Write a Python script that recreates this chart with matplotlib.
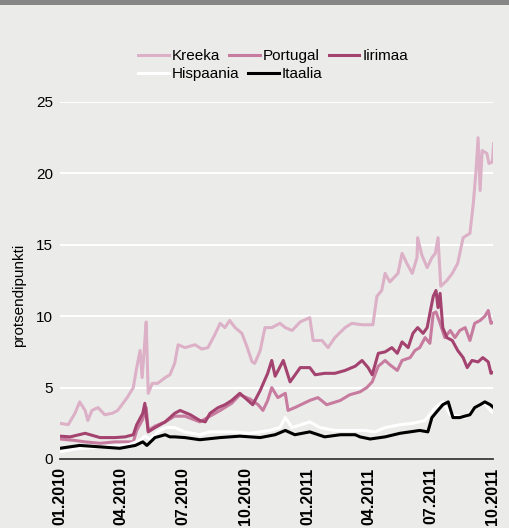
import matplotlib
matplotlib.use("Agg")
import matplotlib.pyplot as plt
import matplotlib.patches as patches
import pandas as pd

# spreads vs Germany, percentage points
kreeka_dates = ["2010-01-01", "2010-01-13", "2010-01-23", "2010-01-30", "2010-02-07", "2010-02-11",
                "2010-02-17", "2010-02-26", "2010-03-08", "2010-03-19", "2010-03-27", "2010-04-10",
                "2010-04-19", "2010-04-24", "2010-04-29", "2010-05-02", "2010-05-05", "2010-05-08",
                "2010-05-11", "2010-05-17", "2010-05-25", "2010-06-05", "2010-06-12", "2010-06-19",
                "2010-06-24", "2010-07-04", "2010-07-19", "2010-07-29", "2010-08-07", "2010-08-17",
                "2010-08-25", "2010-09-01", "2010-09-08", "2010-09-16", "2010-09-26", "2010-10-04",
                "2010-10-11", "2010-10-15", "2010-10-23", "2010-10-30", "2010-11-09", "2010-11-21",
                "2010-11-29", "2010-12-09", "2010-12-21", "2011-01-04", "2011-01-09", "2011-01-22",
                "2011-01-31", "2011-02-10", "2011-02-25", "2011-03-07", "2011-03-22", "2011-04-07",
                "2011-04-13", "2011-04-20", "2011-04-25", "2011-05-02", "2011-05-14", "2011-05-20",
                "2011-05-27", "2011-06-04", "2011-06-11", "2011-06-12", "2011-06-18", "2011-06-26",
                "2011-07-03", "2011-07-08", "2011-07-12", "2011-07-16", "2011-07-25", "2011-08-02",
                "2011-08-10", "2011-08-18", "2011-08-28", "2011-09-02", "2011-09-06", "2011-09-09",
                "2011-09-12", "2011-09-15", "2011-09-22", "2011-09-25", "2011-09-30", "2011-10-02"]
kreeka = [2.5, 2.4, 3.2, 4.0, 3.4, 2.7,
          3.4, 3.6, 3.1, 3.2, 3.4, 4.3,
          5.0, 6.4, 7.6, 5.7, 7.6, 9.6,
          4.6, 5.3, 5.3, 5.7, 5.9, 6.7,
          8.0, 7.8, 8.0, 7.7, 7.8, 8.7,
          9.5, 9.2, 9.7, 9.2, 8.8, 7.8,
          6.8, 6.7, 7.6, 9.2, 9.2, 9.5,
          9.2, 9.0, 9.6, 9.9, 8.3, 8.3,
          7.8, 8.5, 9.2, 9.5, 9.4, 9.4,
          11.4, 11.8, 13.0, 12.4, 13.0, 14.4,
          13.7, 13.0, 14.1, 15.5, 14.3, 13.4,
          14.1, 14.4, 15.5, 12.1, 12.5, 13.0,
          13.7, 15.5, 15.8, 17.9, 20.2, 22.5,
          18.8, 21.6, 21.4, 20.7, 20.8, 22.1]

portugal_dates = ["2010-01-01", "2010-01-23", "2010-02-07", "2010-03-01", "2010-03-23", "2010-04-19",
                  "2010-04-24", "2010-05-03", "2010-05-08", "2010-05-11", "2010-05-21", "2010-06-05",
                  "2010-06-19", "2010-07-04", "2010-07-26", "2010-08-10", "2010-08-25", "2010-09-11",
                  "2010-09-23", "2010-10-08", "2010-10-20", "2010-10-27", "2010-11-03", "2010-11-09",
                  "2010-11-18", "2010-11-29", "2010-12-03", "2010-12-13", "2011-01-04", "2011-01-16",
                  "2011-01-29", "2011-02-18", "2011-03-04", "2011-03-19", "2011-03-29", "2011-04-06",
                  "2011-04-15", "2011-04-25", "2011-05-02", "2011-05-13", "2011-05-20", "2011-06-01",
                  "2011-06-08", "2011-06-15", "2011-06-23", "2011-06-30", "2011-07-05", "2011-07-09",
                  "2011-07-15", "2011-07-22", "2011-07-30", "2011-08-06", "2011-08-13", "2011-08-21",
                  "2011-08-28", "2011-09-04", "2011-09-12", "2011-09-19", "2011-09-24", "2011-09-28",
                  "2011-10-02"]
portugal = [1.4, 1.3, 1.2, 1.1, 1.2, 1.2,
            2.0, 2.8, 3.6, 2.0, 2.3, 2.6,
            3.0, 3.0, 2.6, 3.0, 3.4, 3.9,
            4.5, 4.2, 3.8, 3.4, 4.1, 5.0,
            4.3, 4.6, 3.4, 3.6, 4.1, 4.3,
            3.8, 4.1, 4.5, 4.7, 5.0, 5.4,
            6.5, 6.9, 6.6, 6.2, 6.9, 7.1,
            7.6, 7.8, 8.5, 8.1, 10.2, 10.3,
            9.5, 8.5, 9.0, 8.5, 9.0, 9.2,
            8.3, 9.5, 9.7, 10.0, 10.4, 9.5,
            9.6]

iirimaa_dates = ["2010-01-01", "2010-01-16", "2010-02-07", "2010-03-01", "2010-03-23", "2010-04-07",
                 "2010-04-19", "2010-04-24", "2010-05-03", "2010-05-06", "2010-05-11", "2010-05-21",
                 "2010-06-05", "2010-06-12", "2010-06-19", "2010-06-27", "2010-07-12", "2010-07-26",
                 "2010-08-03", "2010-08-10", "2010-08-22", "2010-09-01", "2010-09-11", "2010-09-23",
                 "2010-10-12", "2010-10-23", "2010-11-03", "2010-11-09", "2010-11-14", "2010-11-26",
                 "2010-12-06", "2010-12-21", "2011-01-04", "2011-01-12", "2011-01-26", "2011-02-10",
                 "2011-02-25", "2011-03-12", "2011-03-22", "2011-03-31", "2011-04-06", "2011-04-15",
                 "2011-04-25", "2011-05-05", "2011-05-13", "2011-05-20", "2011-05-29", "2011-06-05",
                 "2011-06-12", "2011-06-20", "2011-06-26", "2011-06-30", "2011-07-05", "2011-07-09",
                 "2011-07-12", "2011-07-15", "2011-07-19", "2011-07-25", "2011-08-02", "2011-08-10",
                 "2011-08-18", "2011-08-24", "2011-08-31", "2011-09-09", "2011-09-16", "2011-09-24",
                 "2011-09-28", "2011-10-02"]
iirimaa = [1.6, 1.55, 1.8, 1.5, 1.5, 1.55,
           1.7, 2.4, 3.2, 3.9, 1.9, 2.2,
           2.6, 2.9, 3.2, 3.4, 3.1, 2.7,
           2.6, 3.2, 3.6, 3.8, 4.1, 4.6,
           3.8, 4.8, 6.0, 6.9, 5.8, 6.9,
           5.4, 6.4, 6.4, 5.9, 6.0, 6.0,
           6.2, 6.5, 6.9, 6.4, 5.9, 7.4,
           7.5, 7.8, 7.4, 8.2, 7.8, 8.8,
           9.2, 8.8, 9.2, 10.2, 11.4, 11.8,
           10.6, 11.6, 9.2, 8.5, 8.3, 7.6,
           7.1, 6.4, 6.9, 6.8, 7.1, 6.8,
           6.0, 6.1]

hispaania_dates = ["2010-01-01", "2010-01-23", "2010-02-17", "2010-03-19", "2010-04-12", "2010-04-29",
                   "2010-05-06", "2010-05-13", "2010-05-25", "2010-06-05", "2010-06-19", "2010-07-04",
                   "2010-07-26", "2010-08-10", "2010-09-11", "2010-10-08", "2010-11-06", "2010-11-21",
                   "2010-11-29", "2010-12-09", "2011-01-04", "2011-01-19", "2011-02-10", "2011-03-04",
                   "2011-03-26", "2011-04-10", "2011-04-25", "2011-05-17", "2011-06-05", "2011-06-23",
                   "2011-07-08", "2011-07-19", "2011-07-30", "2011-08-21", "2011-09-04", "2011-09-19",
                   "2011-09-27", "2011-10-02"]
hispaania = [0.5, 0.7, 0.8, 0.9, 1.0, 1.3,
             1.6, 1.4, 1.9, 2.2, 2.2, 1.9,
             1.7, 1.9, 1.9, 1.8, 2.0, 2.2,
             2.9, 2.2, 2.6, 2.2, 2.0, 2.0,
             2.0, 1.9, 2.2, 2.4, 2.5, 2.7,
             3.6, 4.0, 3.1, 2.9, 3.6, 3.9,
             3.4, 3.2]

itaalia_dates = ["2010-01-01", "2010-01-30", "2010-03-01", "2010-03-30", "2010-04-22", "2010-05-03",
                 "2010-05-09", "2010-05-21", "2010-06-05", "2010-06-12", "2010-06-19", "2010-07-04",
                 "2010-07-26", "2010-08-25", "2010-09-23", "2010-10-23", "2010-11-14", "2010-11-29",
                 "2010-12-13", "2011-01-04", "2011-01-26", "2011-02-18", "2011-03-12", "2011-03-19",
                 "2011-04-03", "2011-04-25", "2011-05-17", "2011-06-15", "2011-06-27", "2011-07-03",
                 "2011-07-10", "2011-07-19", "2011-07-27", "2011-08-03", "2011-08-13", "2011-08-28",
                 "2011-09-04", "2011-09-12", "2011-09-19", "2011-09-27", "2011-10-02"]
itaalia = [0.75, 0.95, 0.85, 0.75, 0.95, 1.2,
           0.95, 1.5, 1.7, 1.55, 1.55, 1.5,
           1.35, 1.5, 1.6, 1.5, 1.7, 2.0,
           1.7, 1.9, 1.55, 1.7, 1.7, 1.55,
           1.4, 1.55, 1.8, 2.0, 1.9, 2.9,
           3.3, 3.8, 4.0, 2.9, 2.9, 3.1,
           3.6, 3.8, 4.0, 3.8, 3.6]

tick_dates = ["2010-01-01", "2010-04-01", "2010-07-01", "2010-10-01",
              "2011-01-01", "2011-04-01", "2011-07-01", "2011-10-01"]
tick_labels = ["01.2010", "04.2010", "07.2010", "10.2010",
               "01.2011", "04.2011", "07.2011", "10.2011"]

bg = "#ebecea"
plt.rcParams['font.family'] = ['Liberation Sans', 'DejaVu Sans']

fig = plt.figure(figsize=(5.09, 5.28), dpi=100, facecolor=bg)
ax = fig.add_axes([60 / 509, 69 / 528, 433 / 509, 357 / 528])
ax.set_facecolor(bg)

# dark strip across the top
fig.patches.append(patches.Rectangle((0, 1 - 5 / 528), 1, 5 / 528, transform=fig.transFigure,
                                     facecolor="#868686", edgecolor="none"))

series = [
    ("Kreeka", kreeka_dates, kreeka, "#dcb0c6"),
    ("Portugal", portugal_dates, portugal, "#c77c9f"),
    ("Iirimaa", iirimaa_dates, iirimaa, "#a4436f"),
    ("Hispaania", hispaania_dates, hispaania, "#ffffff"),
    ("Itaalia", itaalia_dates, itaalia, "#000000"),
]
handles = {}
for name, d, v, c in series:
    line, = ax.plot(pd.to_datetime(d), v, color=c, lw=2.2, label=name, zorder=3)
    handles[name] = line

ax.set_ylim(0, 25)
ax.set_xlim(pd.Timestamp("2010-01-01"), pd.Timestamp("2011-10-01"))
ax.set_yticks([0, 5, 10, 15, 20, 25])
ax.grid(axis="y", color="white", lw=1.5, zorder=1)
ax.set_axisbelow(True)
for s in ["top", "right", "left"]:
    ax.spines[s].set_visible(False)
ax.spines["bottom"].set_color("#3a3a3a")
ax.spines["bottom"].set_linewidth(1.3)
ax.spines["bottom"].set_zorder(4)

ax.set_xticks(pd.to_datetime(tick_dates))
ax.set_xticklabels(tick_labels, rotation=90, fontsize=11.5, fontweight="bold")
ax.tick_params(axis="x", length=0, pad=6)
ax.tick_params(axis="y", length=0, pad=5, labelsize=11)

fig.text(19 / 509, 1 - 295 / 528, "protsendipunkti", rotation=90, ha="center", va="center", fontsize=11)

# legend in two rows like the original
leg_kw = dict(frameon=False, fontsize=11, handlelength=2.0, handletextpad=0.2,
              columnspacing=0.6, borderpad=0, borderaxespad=0, loc="center left")
leg1 = fig.legend([handles["Kreeka"], handles["Portugal"], handles["Iirimaa"]],
                  ["Kreeka", "Portugal", "Iirimaa"], ncol=3,
                  bbox_to_anchor=(138 / 509, 1 - 56 / 528), **leg_kw)
leg2 = fig.legend([handles["Hispaania"], handles["Itaalia"]],
                  ["Hispaania", "Itaalia"], ncol=2,
                  bbox_to_anchor=(138 / 509, 1 - 74 / 528), **leg_kw)

fig.savefig("out.png", dpi=100, facecolor=bg)
